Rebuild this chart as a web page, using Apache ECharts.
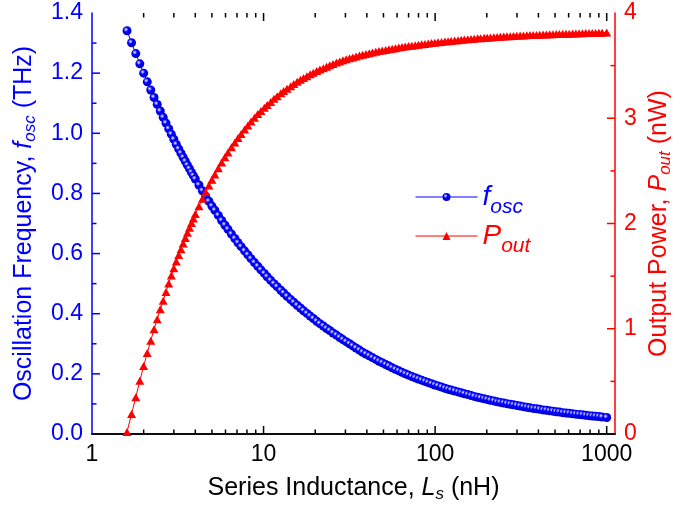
<!DOCTYPE html>
<html>
<head>
<meta charset="utf-8">
<script src="https://cdn.jsdelivr.net/npm/echarts/dist/echarts.min.js"></script>
<style>
html,body{margin:0;padding:0;background:#fff;}
#chart{width:694px;height:514px;}
</style>
</head>
<body>
<div id="chart"></div>
<script>
// Series inductance L_s (nH)
const Ls = [1.6,1.7,1.8,1.9,2.0,2.1,2.2,2.3,2.4,2.5,2.6,2.7,2.8,2.9,3.0,3.1,3.2,3.3,3.4,3.5,3.6,3.7,3.8,3.9,4.0,
  4.2,4.4,4.6,4.8,5.0,5.2,5.45,5.7,5.95,6.2,
  6.5,6.8,7.1,7.4,7.75,8.1,8.45,8.85,9.25,9.65,
  10.1,10.5,11,11.5,12,12.6,13.1,13.7,14.4,15,
  15.7,16.4,17.1,17.9,18.7,19.5,20.4,21.3,22.3,23.3,
  24.3,25.4,26.6,27.8,29,30.3,31.7,33.1,34.6,36.2,
  37.8,39.5,41.3,43.1,45.1,47.1,49.2,51.5,53.8,56.2,
  58.7,61.4,64.1,67,70,73.2,76.5,79.9,83.5,87.3,
  91.2,95.3,99.6,104,109,114,119,124,130,136,
  142,148,155,162,169,177,184,193,201,210,
  220,230,240,251,262,274,286,299,313,327,
  342,357,373,390,407,426,445,465,486,508,
  530,554,579,605,633,661,691,722,755,789,
  824,861,900,940,1000];
// Oscillation frequency f_osc (THz)
const fOsc = [1.341,1.301,1.265,1.231,1.200,1.171,1.144,1.119,1.096,1.074,1.053,1.034,1.015,0.997,0.980,0.963,0.948,0.934,0.920,0.907,0.894,0.882,0.870,0.859,0.848,
  0.828,0.809,0.791,0.774,0.758,0.744,0.727,0.710,0.695,0.681,
  0.665,0.650,0.636,0.623,0.609,0.596,0.583,0.570,0.558,0.546,
  0.534,0.523,0.511,0.500,0.490,0.478,0.469,0.458,0.447,0.438,
  0.428,0.419,0.410,0.401,0.392,0.384,0.375,0.367,0.359,0.351,
  0.344,0.336,0.329,0.321,0.314,0.307,0.300,0.293,0.286,0.279,
  0.272,0.266,0.260,0.254,0.248,0.242,0.237,0.231,0.226,0.220,
  0.215,0.210,0.205,0.200,0.196,0.191,0.187,0.183,0.179,0.175,
  0.171,0.167,0.163,0.160,0.156,0.152,0.149,0.146,0.143,0.140,
  0.137,0.134,0.131,0.128,0.125,0.122,0.120,0.117,0.115,0.112,
  0.110,0.107,0.105,0.103,0.101,0.099,0.097,0.095,0.093,0.091,
  0.089,0.087,0.085,0.084,0.082,0.080,0.079,0.077,0.076,0.074,
  0.073,0.071,0.070,0.069,0.067,0.066,0.065,0.064,0.062,0.061,
  0.060,0.059,0.058,0.0565,0.055];
// Output power P_out (nW)
const pOut = [0.02,0.19,0.35,0.505,0.645,0.77,0.887,0.995,1.09,1.185,1.267,1.35,1.43,1.505,1.575,1.64,1.70,1.756,1.81,1.862,1.912,1.96,2.005,2.048,2.09,
  2.165,2.235,2.30,2.36,2.415,2.465,2.525,2.58,2.63,2.675,
  2.725,2.77,2.812,2.85,2.893,2.932,2.969,3.005,3.04,3.068,
  3.10,3.125,3.155,3.185,3.21,3.238,3.258,3.28,3.305,3.325,
  3.346,3.365,3.382,3.40,3.418,3.433,3.448,3.463,3.476,3.489,
  3.503,3.516,3.529,3.54,3.55,3.56,3.569,3.578,3.587,3.596,
  3.604,3.611,3.618,3.625,3.631,3.638,3.643,3.649,3.655,3.661,
  3.666,3.672,3.677,3.681,3.686,3.69,3.694,3.699,3.703,3.706,
  3.71,3.714,3.718,3.721,3.725,3.729,3.732,3.735,3.739,3.742,
  3.745,3.748,3.751,3.754,3.756,3.759,3.761,3.764,3.766,3.768,
  3.77,3.772,3.774,3.776,3.778,3.78,3.782,3.784,3.786,3.787,
  3.788,3.79,3.791,3.792,3.793,3.795,3.796,3.797,3.799,3.80,
  3.801,3.802,3.803,3.804,3.805,3.806,3.807,3.808,3.809,3.81,
  3.81,3.811,3.812,3.813,3.815];

// Axis ticks (values)
const xMajorTicks = [1, 10, 100, 1000];
const xMinorTicks = [];
for (const d of [1, 10, 100]) for (let k = 2; k <= 9; k++) xMinorTicks.push(k * d);
const yLeftTicks = [0, 0.1, 0.2, 0.3, 0.4, 0.5, 0.6, 0.7, 0.8, 0.9, 1.0, 1.1, 1.2, 1.3, 1.4];
const yRightTicks = [0, 0.5, 1, 1.5, 2, 2.5, 3, 3.5, 4];

const X_MIN = 1, X_MAX = 1118, YL_MAX = 1.4;
const FONT = 'Liberation Sans, Arial, sans-serif';
const BLUE = '#0000ff';
const RED = '#ff0000';
const MAJOR_LEN = 8, MINOR_LEN = 4.5, TICK_W = 1.5;

const chart = echarts.init(document.getElementById('chart'), null, {renderer: 'canvas'});

const sphere = {
  type: 'radial', x: 0.38, y: 0.36, r: 0.62,
  colorStops: [
    {offset: 0, color: '#ffffff'},
    {offset: 0.15, color: '#a0a0ff'},
    {offset: 0.42, color: '#0000ff'},
    {offset: 1, color: '#0000c8'}
  ]
};

function xLabel(v) {
  for (const t of xMajorTicks) if (Math.abs(v - t) / t < 1e-6) return String(t);
  return '';
}

function legendRich(color) {
  return {
    i: {fontStyle: 'italic', fontSize: 28, color: color, fontFamily: FONT},
    s: {fontStyle: 'italic', fontSize: 21, color: color, fontFamily: FONT, padding: [20, 0, 0, 0]}
  };
}
function nameRich(color, size, subSize) {
  return {
    i: {fontStyle: 'italic', fontSize: size, fontFamily: FONT, color: color},
    s: {fontStyle: 'italic', fontSize: subSize, fontFamily: FONT, color: color, padding: [12, 0, 0, 0]}
  };
}
function tickLine(x1, y1, x2, y2, color) {
  return {type: 'line', shape: {x1: x1, y1: y1, x2: x2, y2: y2}, style: {stroke: color, lineWidth: TICK_W}};
}

const xTickData = xMajorTicks.filter(v => v > X_MIN).map(v => [v, 1]).concat(xMinorTicks.map(v => [v, 0]));
const yLTickData = yLeftTicks.filter(v => v > 0 && v < YL_MAX).map(v => [X_MIN, v, (Math.round(v * 10) % 2 === 0) ? 1 : 0]);
const yRTickData = yRightTicks.filter(v => v > 0 && v < 4).map(v => [X_MAX, v, (v % 1 === 0) ? 1 : 0]);

const option = {
  animation: false,
  backgroundColor: '#ffffff',
  grid: {left: 92, right: 79, top: 13, bottom: 80, containLabel: false, outerBoundsMode: 'none'},
  legend: [
    {
      data: ['f_osc'], left: 415, top: 183, padding: 0, itemGap: 0,
      itemWidth: 62, itemHeight: 10, selectedMode: false,
      lineStyle: {width: 1},
      formatter: '{i|f}{s|osc}',
      textStyle: {color: BLUE, fontFamily: FONT, rich: legendRich(BLUE)}
    },
    {
      data: ['P_out'], left: 415, top: 222, padding: 0, itemGap: 0,
      itemWidth: 62, itemHeight: 10, selectedMode: false,
      lineStyle: {width: 1},
      formatter: '{i|P}{s|out}',
      textStyle: {color: RED, fontFamily: FONT, rich: legendRich(RED)}
    }
  ],
  xAxis: [
    {
      type: 'log', logBase: 10, min: X_MIN, max: X_MAX, position: 'bottom',
      axisLine: {show: true, lineStyle: {color: '#000', width: 1.5}},
      axisTick: {show: false},
      axisLabel: {fontSize: 23, fontFamily: FONT, color: '#000', margin: 9, formatter: xLabel},
      splitLine: {show: false},
      name: 'Series Inductance, {i|L}{s|s} (nH)',
      nameLocation: 'middle', nameGap: 40,
      nameTextStyle: {fontSize: 25, fontFamily: FONT, color: '#000', rich: nameRich('#000', 25, 17)}
    },
    {
      type: 'log', logBase: 10, min: X_MIN, max: X_MAX, position: 'top',
      axisLine: {show: true, lineStyle: {color: '#000', width: 1.5}},
      axisTick: {show: false},
      axisLabel: {show: false},
      splitLine: {show: false}
    }
  ],
  yAxis: [
    {
      type: 'value', min: 0, max: YL_MAX, interval: 0.2, position: 'left',
      axisLine: {show: true, lineStyle: {color: BLUE, width: 1.5}},
      axisTick: {show: false},
      axisLabel: {fontSize: 23, fontFamily: FONT, color: BLUE, margin: 9, formatter: v => v.toFixed(1)},
      splitLine: {show: false},
      name: 'Oscillation Frequency, {i|f}{s|osc} (THz)',
      nameLocation: 'middle', nameGap: 53, nameMoveOverlap: false,
      nameTextStyle: {fontSize: 25, fontFamily: FONT, color: BLUE, rich: nameRich(BLUE, 25, 17)}
    },
    {
      type: 'value', min: 0, max: 4, interval: 1, position: 'right',
      axisLine: {show: true, lineStyle: {color: RED, width: 1.5}},
      axisTick: {show: false},
      axisLabel: {fontSize: 23, fontFamily: FONT, color: RED, margin: 9},
      splitLine: {show: false},
      name: 'Output Power, {i|P}{s|out} (nW)',
      nameLocation: 'middle', nameGap: 30, nameMoveOverlap: false,
      nameTextStyle: {fontSize: 25, fontFamily: FONT, color: RED, rich: nameRich(RED, 25, 17)}
    }
  ],
  series: [
    {
      name: 'f_osc', type: 'line', xAxisIndex: 0, yAxisIndex: 0,
      data: Ls.map((l, i) => [l, fOsc[i]]),
      symbol: 'circle', symbolSize: 9, showSymbol: true,
      lineStyle: {color: BLUE, width: 1},
      itemStyle: {color: sphere, borderWidth: 0},
      z: 3
    },
    {
      name: 'P_out', type: 'line', xAxisIndex: 0, yAxisIndex: 1,
      data: Ls.map((l, i) => [l, pOut[i]]),
      symbol: 'triangle', symbolSize: [9, 8], showSymbol: true,
      lineStyle: {color: RED, width: 1},
      itemStyle: {color: RED, borderWidth: 0},
      z: 4
    },
    {
      type: 'custom', xAxisIndex: 0, yAxisIndex: 0, silent: true, clip: false, z: 10,
      data: xTickData,
      renderItem: function (params, api) {
        const v = api.value(0);
        const len = api.value(1) ? MAJOR_LEN : MINOR_LEN;
        const b = api.coord([v, 0]);
        const t = api.coord([v, YL_MAX]);
        return {type: 'group', children: [
          tickLine(b[0], b[1], b[0], b[1] - len, '#000'),
          tickLine(t[0], t[1], t[0], t[1] + len, '#000')
        ]};
      }
    },
    {
      type: 'custom', xAxisIndex: 0, yAxisIndex: 0, silent: true, clip: false, z: 10,
      data: yLTickData,
      renderItem: function (params, api) {
        const p = api.coord([api.value(0), api.value(1)]);
        const len = api.value(2) ? MAJOR_LEN : MINOR_LEN;
        return tickLine(p[0], p[1], p[0] + len, p[1], BLUE);
      }
    },
    {
      type: 'custom', xAxisIndex: 0, yAxisIndex: 1, silent: true, clip: false, z: 10,
      data: yRTickData,
      renderItem: function (params, api) {
        const p = api.coord([api.value(0), api.value(1)]);
        const len = api.value(2) ? MAJOR_LEN : MINOR_LEN;
        return tickLine(p[0], p[1], p[0] - len, p[1], RED);
      }
    }
  ]
};
chart.setOption(option);
</script>
</body>
</html>
